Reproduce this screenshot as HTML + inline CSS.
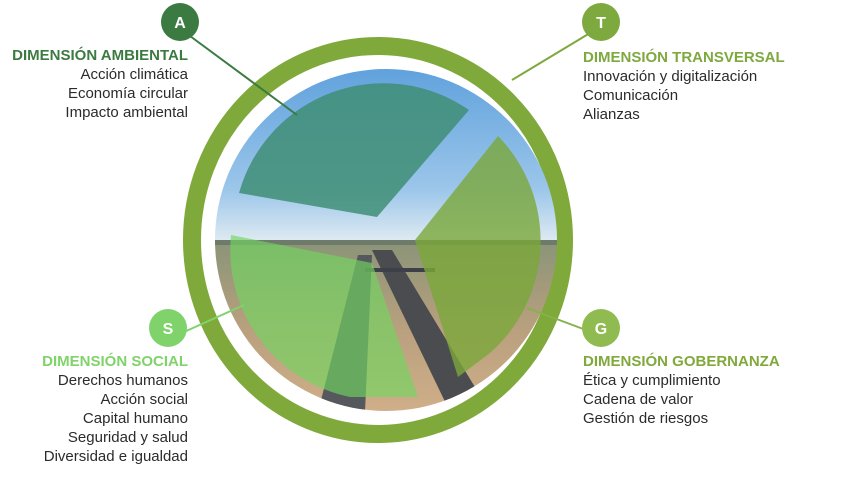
<!DOCTYPE html>
<html><head><meta charset="utf-8"><style>
html,body{margin:0;padding:0;background:#fff;}
body{width:851px;height:487px;position:relative;overflow:hidden;font-family:"Liberation Sans",Arial,sans-serif;}
.t{position:absolute;font-size:15px;line-height:19px;color:#2b2b2b;}
.r{text-align:right;}
.h{font-weight:bold;font-size:15px;}
</style></head><body>
<svg width="851" height="487" style="position:absolute;left:0;top:0">
<defs>
<clipPath id="c"><circle cx="386" cy="240" r="171"/></clipPath>
<linearGradient id="sky" x1="0" y1="0" x2="0" y2="1">
<stop offset="0" stop-color="#5c9fdc"/><stop offset="0.7" stop-color="#9cc6ea"/><stop offset="1" stop-color="#e3edf2"/></linearGradient>
<linearGradient id="land" x1="0" y1="0" x2="0" y2="1">
<stop offset="0" stop-color="#8a9478"/><stop offset="0.5" stop-color="#b9a07e"/><stop offset="1" stop-color="#d2b08a"/></linearGradient>
</defs>
<ellipse cx="378" cy="240" rx="186" ry="194" fill="none" stroke="#80a93c" stroke-width="18"/>
<g clip-path="url(#c)">
<rect x="200" y="60" width="380" height="185" fill="url(#sky)"/>
<rect x="200" y="240" width="380" height="180" fill="url(#land)"/>
<rect x="200" y="240" width="380" height="5" fill="#6e7a6a"/>
<polygon points="372,250 392,250 490,412 450,412" fill="#4a4c50"/>
<polygon points="358,255 372,255 365,412 318,412" fill="#55585c"/>
<rect x="365" y="268" width="70" height="4" fill="#3d4048"/>
<path d="M239 193 A150 150 0 0 1 469 110 L377 217 Z" fill="#3f8e76" fill-opacity="0.85"/>
<path d="M415 240 L498 136 A150 150 0 0 1 490 353 L458 377 Z" fill="#7aa83a" fill-opacity="0.8"/>
<path d="M231 235 L372 263 L418 397 L350 397 A150 150 0 0 1 231 235 Z" fill="#72d660" fill-opacity="0.65"/>
</g>
<line x1="190" y1="36" x2="297" y2="115" stroke="#3b7b42" stroke-width="2"/>
<line x1="590" y1="33" x2="512" y2="80" stroke="#7ea93f" stroke-width="2"/>
<line x1="184" y1="332" x2="244" y2="305" stroke="#7fd36a" stroke-width="2"/>
<line x1="527" y1="308" x2="586" y2="330" stroke="#86b24a" stroke-width="2"/>
<circle cx="180" cy="22" r="19" fill="#3b7b42"/>
<circle cx="601" cy="22" r="19" fill="#7ea93f"/>
<circle cx="168" cy="328" r="19" fill="#7fd36a"/>
<circle cx="601" cy="328" r="19" fill="#8fbb50"/>
<g font-family="Liberation Sans,Arial,sans-serif" font-weight="bold" font-size="16" fill="#fff" text-anchor="middle">
<text x="180" y="28">A</text><text x="601" y="28">T</text><text x="168" y="334">S</text><text x="601" y="334">G</text>
</g>
</svg>
<div class="t r" style="right:663px;top:46px"><div class="h" style="color:#3b7b42">DIMENSIÓN AMBIENTAL</div>Acción climática<br>Economía circular<br>Impacto ambiental</div>
<div class="t" style="left:583px;top:48px"><div class="h" style="color:#7ea93f">DIMENSIÓN TRANSVERSAL</div>Innovación y digitalización<br>Comunicación<br>Alianzas</div>
<div class="t r" style="right:663px;top:352px"><div class="h" style="color:#7fd36a">DIMENSIÓN SOCIAL</div>Derechos humanos<br>Acción social<br>Capital humano<br>Seguridad y salud<br>Diversidad e igualdad</div>
<div class="t" style="left:583px;top:352px"><div class="h" style="color:#80a93c">DIMENSIÓN GOBERNANZA</div>Ética y cumplimiento<br>Cadena de valor<br>Gestión de riesgos</div>
</body></html>
